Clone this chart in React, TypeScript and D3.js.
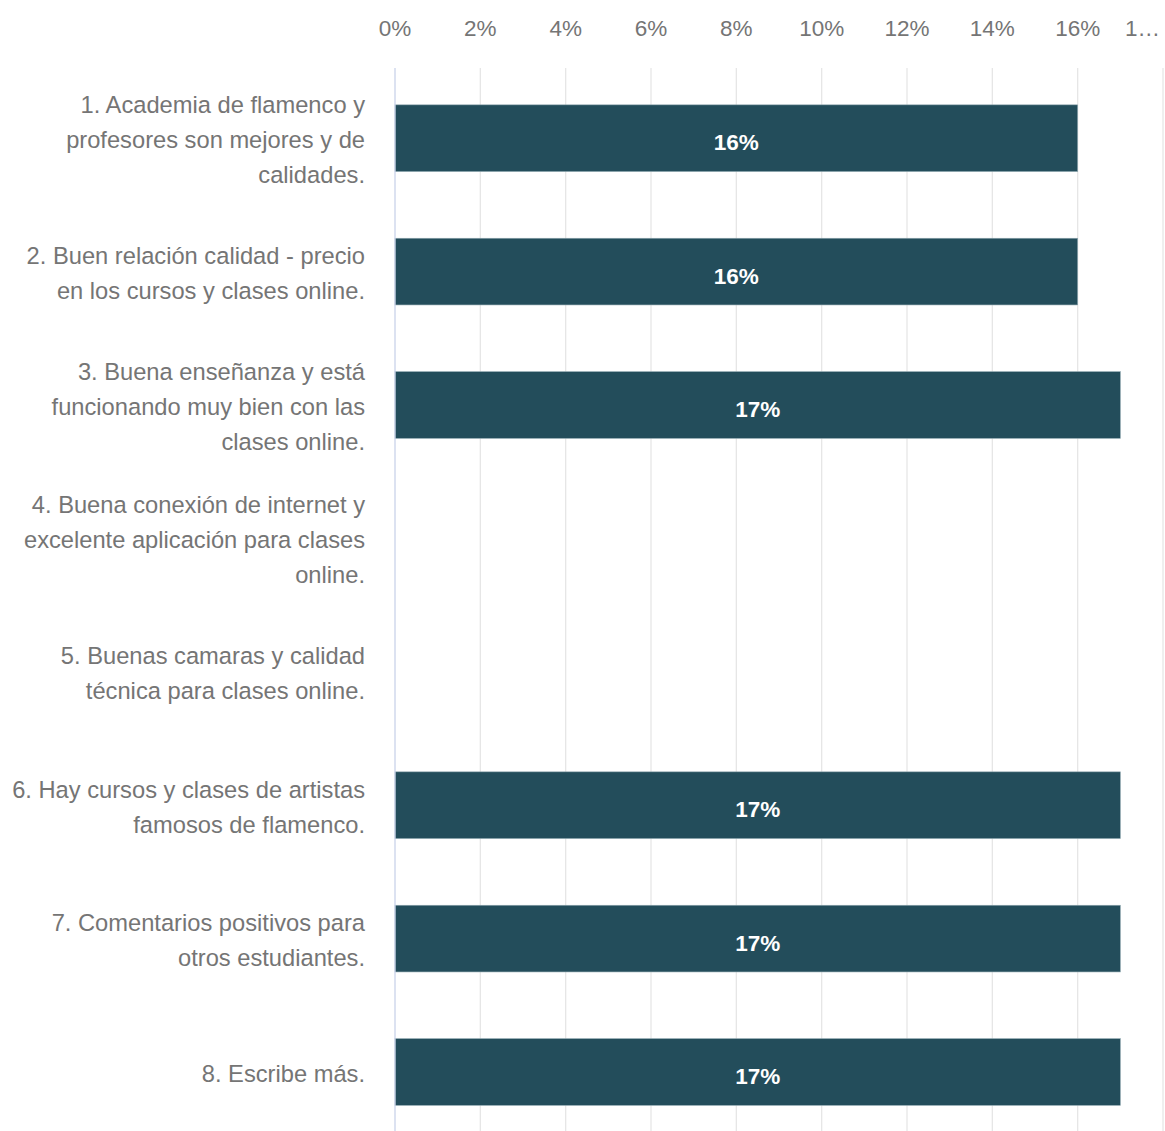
import React from "react";
import * as d3 from "d3";

const categories: string[][] = [
  ["1. Academia de flamenco y", "profesores son mejores y de", "calidades."],
  ["2. Buen relación calidad - precio", "en los cursos y clases online."],
  ["3. Buena enseñanza y está", "funcionando muy bien con las", "clases online."],
  ["4. Buena conexión de internet y", "excelente aplicación para clases", "online."],
  ["5. Buenas camaras y calidad", "técnica para clases online."],
  ["6. Hay cursos y clases de artistas", "famosos de flamenco."],
  ["7. Comentarios positivos para", "otros estudiantes."],
  ["8. Escribe más."],
];
const values: number[] = [16, 16, 17, 0, 0, 17, 17, 17];
const ticks: number[] = [0, 2, 4, 6, 8, 10, 12, 14, 16, 18];
const tickLabels: string[] = ["0%", "2%", "4%", "6%", "8%", "10%", "12%", "14%", "16%", "1…"];

export default function App() {
  const W = 1165, H = 1131;
  const x = d3.scaleLinear().domain([0, 18]).range([395, 1163]);
  const y = d3.scaleBand<number>().domain(d3.range(8)).range([71.5, 71.5 + 8 * 133.4]).paddingInner(0.5).paddingOuter(0.25);
  const bw = y.bandwidth();
  const font = "'Liberation Sans', Arial, sans-serif";
  const lh = 35;
  return (
    <svg width={W} height={H} style={{ position: "absolute", left: 0, top: 0, background: "#fff" }} fontFamily={font}>
      {ticks.map((t, i) => (
        <g key={t}>
          {i > 0 && <line x1={x(t)} x2={x(t)} y1={68} y2={H} stroke="#e6e6e6" strokeWidth={1.3} />}
          <text
            x={i === ticks.length - 1 ? 1160 : x(t)}
            y={36}
            textAnchor={i === ticks.length - 1 ? "end" : "middle"}
            fontSize={22.5}
            fill="#757575"
          >
            {tickLabels[i]}
          </text>
        </g>
      ))}
      {values.map((v, i) => {
        const y0 = y(i)!;
        return v > 0 ? (
          <g key={i}>
            <rect x={x(0)} y={y0} width={x(v) - x(0)} height={bw} fill="#234d5b" stroke="#8fa7b0" strokeWidth={0.6} />
            <text x={(x(0) + x(v)) / 2} y={y0 + bw / 2 + 12} textAnchor="middle" fontSize={22.5} fontWeight="bold" fill="#ffffff">
              {v}%
            </text>
          </g>
        ) : null;
      })}
      <line x1={x(0)} x2={x(0)} y1={68} y2={H} stroke="#c9d3ea" strokeWidth={1.3} />
      {categories.map((lines, i) => {
        const cy = y(i)! + bw / 2;
        const start = cy - ((lines.length - 1) * lh) / 2;
        return (
          <text key={i} textAnchor="end" fontSize={23.7} fill="#757575">
            {lines.map((l, j) => (
              <tspan key={j} x={365} y={start + j * lh + 10}>
                {l}
              </tspan>
            ))}
          </text>
        );
      })}
    </svg>
  );
}
